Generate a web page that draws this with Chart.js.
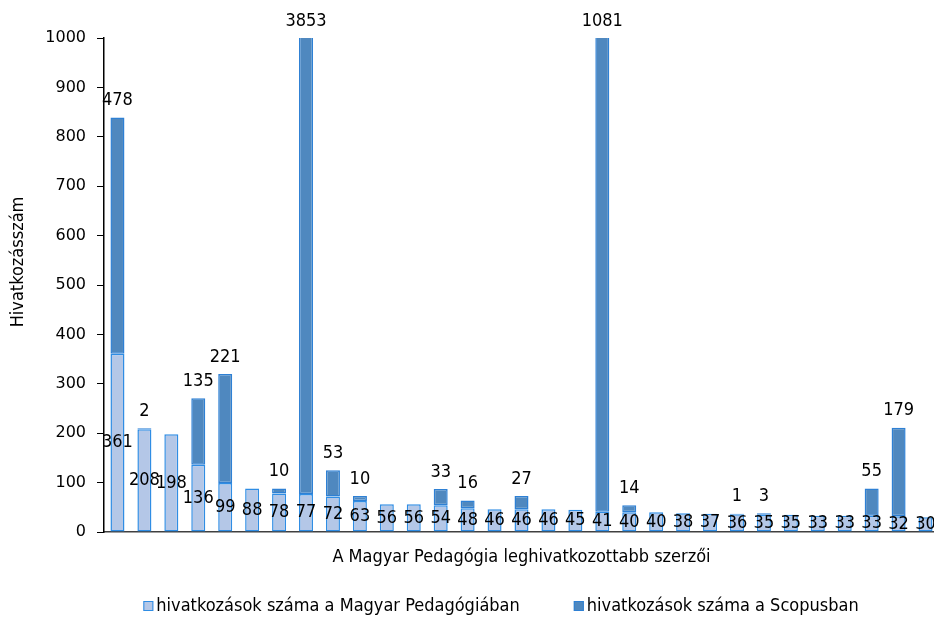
<!DOCTYPE html>
<html>
<head>
<meta charset="utf-8">
<script src="https://cdn.jsdelivr.net/npm/chart.js@4.4.0/dist/chart.umd.min.js"></script>
<style>
    html, body { margin: 0; padding: 0; background: #fff; overflow: hidden; }
    #wrap { width: 940px; height: 619px; }
</style>
</head>
<body>
<div id="wrap"><canvas id="chart" width="940" height="619"></canvas></div>
<script>
// Authors ranked by citations in Magyar Pedagógia (names not shown on the chart)
const authors = ['1', '2', '3', '4', '5', '6', '7', '8', '9', '10',
    '11', '12', '13', '14', '15', '16', '17', '18', '19', '20',
    '21', '22', '23', '24', '25', '26', '27', '28', '29', '30', '31'];

const magyarPedCitations = [361, 208, 198, 136, 99, 88, 78, 77, 72, 63,
    56, 56, 54, 48, 46, 46, 46, 45, 41, 40,
    40, 38, 37, 36, 35, 35, 33, 33, 33, 32, 30];

const scopusCitations = [478, 2, 0, 135, 221, 0, 10, 3853, 53, 10,
    0, 0, 33, 16, 0, 27, 0, 0, 1081, 14,
    0, 0, 0, 1, 3, 0, 0, 0, 55, 179, 0];

const yTicks = [0, 100, 200, 300, 400, 500, 600, 700, 800, 900, 1000];

const seriesNames = ['hivatkozások száma a Magyar Pedagógiában', 'hivatkozások száma a Scopusban'];
const xTitle = 'A Magyar Pedagógia leghivatkozottabb szerzői';
const yTitle = 'Hivatkozásszám';

const condensed = '"DejaVu Sans Condensed", "DejaVu Sans", sans-serif';
const labelFont = '18px ' + condensed;

// Value labels: inside the lower segment, above the stacked bar for Scopus
const barLabels = {
    id: 'barLabels',
    afterDatasetsDraw(chart) {
        const ctx = chart.ctx;
        const area = chart.chartArea;
        ctx.save();
        ctx.font = labelFont;
        ctx.fillStyle = '#000';
        ctx.textAlign = 'center';
        ctx.textBaseline = 'middle';
        chart.getDatasetMeta(0).data.forEach((bar, i) => {
            ctx.fillText(String(magyarPedCitations[i]), bar.x, (bar.y + bar.base) / 2);
        });
        chart.getDatasetMeta(1).data.forEach((bar, i) => {
            if (!scopusCitations[i]) return;
            const top = Math.max(bar.y, area.top);
            ctx.fillText(String(scopusCitations[i]), bar.x, top - 17);
        });
        ctx.restore();
    }
};

// Legend and y title drawn by hand to match the original placement
const extras = {
    id: 'extras',
    afterDraw(chart) {
        const ctx = chart.ctx;
        ctx.save();
        ctx.font = labelFont;
        ctx.fillStyle = '#000';
        ctx.textBaseline = 'middle';

        // y axis title
        ctx.save();
        ctx.translate(18.5, 262);
        ctx.rotate(-Math.PI / 2);
        ctx.textAlign = 'center';
        ctx.fillText(yTitle, 0, 0);
        ctx.restore();

        // legend
        const box = 10, boxGap = 3, itemGap = 54, legendY = 606, centerX = 501;
        const items = chart.data.datasets.map(ds => ({
            text: ds.label,
            fill: ds.backgroundColor,
            stroke: ds.borderColor,
            width: ctx.measureText(ds.label).width
        }));
        let total = itemGap * (items.length - 1);
        items.forEach(it => { total += box + boxGap + it.width; });
        let x = centerX - total / 2;
        ctx.textAlign = 'left';
        items.forEach(it => {
            ctx.fillStyle = it.fill;
            ctx.fillRect(x, legendY - box / 2, box, box);
            ctx.strokeStyle = it.stroke;
            ctx.lineWidth = 1;
            ctx.strokeRect(x + 0.5, legendY - box / 2 + 0.5, box - 1, box - 1);
            ctx.fillStyle = '#000';
            ctx.fillText(it.text, x + box + boxGap, legendY);
            x += box + boxGap + it.width + itemGap;
        });
        ctx.restore();
    }
};

const ctx = document.getElementById('chart').getContext('2d');
const chart = new Chart(ctx, {
    type: 'bar',
    data: {
        labels: authors,
        datasets: [{
            label: seriesNames[0],
            data: magyarPedCitations,
            backgroundColor: '#b4c7e7',
            borderColor: '#2f8de4',
            borderWidth: 1.5,
            borderSkipped: false
        }, {
            label: seriesNames[1],
            data: scopusCitations,
            backgroundColor: '#4f88bf',
            borderColor: '#2e80d4',
            borderWidth: 1.5,
            borderSkipped: false
        }]
    },
    options: {
        responsive: false,
        animation: false,
        devicePixelRatio: 1,
        layout: { padding: { top: 38, left: 0, right: 1, bottom: 47 } },
        datasets: {
            bar: { barPercentage: 0.52, categoryPercentage: 1 }
        },
        plugins: {
            legend: { display: false },
            tooltip: { enabled: false }
        },
        scales: {
            x: {
                stacked: true,
                ticks: { display: false },
                grid: { display: true, drawOnChartArea: false, drawTicks: false },
                border: { display: true, color: '#404040', width: 1.5 },
                title: {
                    display: true,
                    text: xTitle,
                    color: '#000',
                    font: { family: condensed, size: 18 },
                    padding: { top: 0, bottom: 4 }
                },
                afterFit(scale) { scale.height = 40; }
            },
            y: {
                stacked: true,
                min: 0,
                max: 1000,
                afterBuildTicks(scale) { scale.ticks = yTicks.map(v => ({ value: v })); },
                ticks: {
                    color: '#000',
                    padding: 11,
                    font: { family: '"DejaVu Sans", sans-serif', size: 16 },
                    callback: (value) => String(value)
                },
                grid: { drawOnChartArea: false, tickLength: 7, color: '#000' },
                border: { display: true, color: '#000', width: 1.5 },
                afterFit(scale) { scale.width = 104; }
            }
        }
    },
    plugins: [barLabels, extras]
});
</script>
</body>
</html>
